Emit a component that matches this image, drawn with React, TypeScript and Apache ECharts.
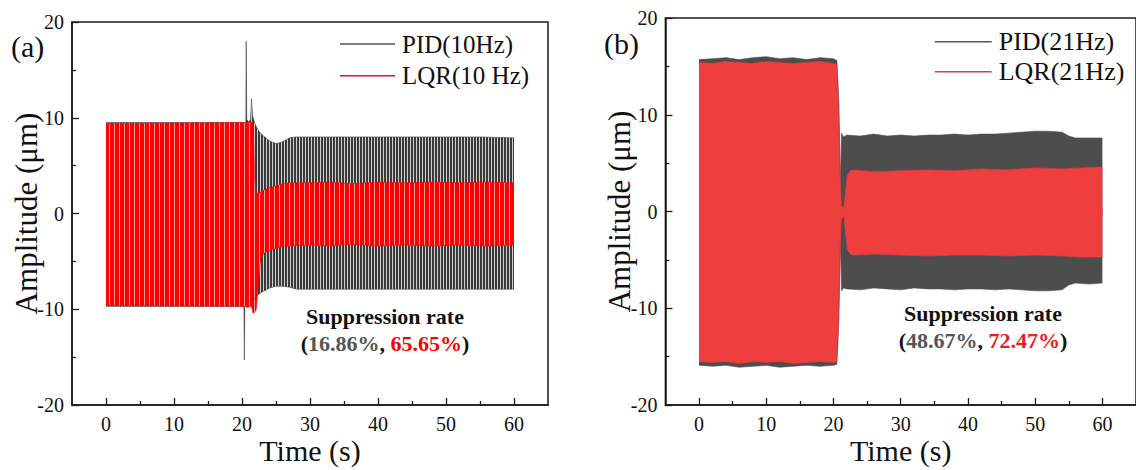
import React, { useEffect, useRef } from 'react';
import * as echarts from 'echarts';

// ---------- axes ----------
const xMajorTicks = [0, 10, 20, 30, 40, 50, 60];
const xMinorTicks = [5, 15, 25, 35, 45, 55];
const xMin = -5;
const xMax = 65;
const yMin = -20;
const yMax = 20;

// ---------- panel (a), 10 Hz: envelope of the oscillation (upper / lower peaks) ----------
const timeA_PID = [0, 20.2, 20.28, 20.35, 20.42, 20.55, 20.62, 20.7, 21.0, 21.25, 21.4, 21.55, 22, 22.5, 23, 24, 25, 26, 27, 28, 30, 35, 40, 45, 50, 55, 60];
const upperA_PID = [9.5, 9.5, 9.5, 9.5, 9.5, 9.6, 18.0, 9.8, 9.6, 9.8, 12.0, 10.2, 9.2, 8.6, 8.2, 7.6, 7.3, 7.5, 7.9, 8.0, 8.0, 8.0, 8.0, 8.0, 8.0, 8.0, 7.9];
const lowerA_PID = [-9.7, -9.7, -9.8, -15.3, -9.8, -9.7, -9.6, -9.8, -9.8, -9.6, -9.5, -9.2, -8.8, -8.4, -8.2, -7.8, -7.6, -7.6, -7.7, -7.9, -7.9, -7.9, -7.9, -7.9, -7.9, -7.9, -7.9];

const timeA_LQR = [0, 21.4, 21.6, 21.9, 22.1, 22.4, 22.7, 23.1, 24, 25.5, 27, 30, 33, 36, 40, 44, 48, 52, 56, 60];
const upperA_LQR = [9.4, 9.5, 9.6, 3.5, 2.2, 2.1, 2.2, 2.4, 2.7, 3.0, 3.2, 3.2, 3.3, 3.1, 3.3, 3.2, 3.3, 3.2, 3.3, 3.2];
const lowerA_LQR = [-9.6, -9.7, -10.4, -10.3, -10.0, -7.5, -5.0, -4.2, -3.9, -3.5, -3.4, -3.3, -3.4, -3.2, -3.4, -3.3, -3.4, -3.3, -3.4, -3.3];

// ---------- panel (b), 21 Hz ----------
const timeB_PID = [0, 2, 4, 6, 8, 10, 12, 14, 16, 18, 20, 20.5, 20.75, 21.05, 21.2, 21.5, 22, 24, 26, 28, 30, 32, 34, 36, 38, 40, 42, 44, 46, 48, 50, 52, 54, 55, 56, 58, 60];
const upperB_PID = [15.7, 15.8, 15.9, 15.7, 15.9, 16.0, 15.8, 15.9, 15.7, 15.9, 15.8, 15.6, 12.0, 3.0, 8.1, 7.7, 7.9, 7.8, 8.0, 7.8, 7.9, 7.8, 7.9, 7.9, 8.0, 7.9, 8.0, 8.0, 8.1, 8.2, 8.3, 8.3, 8.2, 7.8, 7.6, 7.6, 7.6];
const lowerB_PID = [-15.9, -16.0, -15.9, -16.1, -16.0, -15.9, -16.1, -16.0, -15.9, -16.0, -15.9, -15.8, -12.0, -3.0, -8.2, -7.9, -8.0, -8.1, -7.9, -8.0, -8.1, -7.9, -8.0, -8.0, -8.1, -8.0, -8.0, -8.1, -8.0, -8.1, -8.2, -8.2, -8.1, -7.6, -7.4, -7.5, -7.4];

const timeB_LQR = [0, 2, 4, 6, 8, 10, 12, 14, 16, 18, 20, 20.5, 20.8, 21.0, 21.15, 21.55, 21.8, 22.1, 22.5, 23, 26, 30, 34, 38, 42, 46, 50, 54, 57, 60];
const upperB_LQR = [15.4, 15.3, 15.5, 15.4, 15.3, 15.5, 15.4, 15.3, 15.4, 15.5, 15.3, 15.2, 11.0, 4.0, 0.6, 0.3, 2.2, 3.8, 4.2, 4.3, 4.1, 4.2, 4.3, 4.2, 4.4, 4.3, 4.5, 4.4, 4.5, 4.6];
const lowerB_LQR = [-15.5, -15.6, -15.5, -15.7, -15.5, -15.6, -15.5, -15.7, -15.6, -15.5, -15.6, -15.5, -11.0, -4.2, -0.8, -0.5, -2.4, -4.0, -4.4, -4.5, -4.4, -4.5, -4.6, -4.5, -4.5, -4.6, -4.5, -4.6, -4.7, -4.7];

const legendA = ['PID(10Hz)', 'LQR(10 Hz)'];
const legendB = ['PID(21Hz)', 'LQR(21Hz)'];
const rateA = ['16.86%', '65.65%'];
const rateB = ['48.67%', '72.47%'];

const SERIF = "'Liberation Serif', 'Times New Roman', serif";
const BOLD_FONT = "bold 22px 'Liberation Serif', 'Times New Roman', serif";

// Each envelope is drawn as two filled line series: zero -> upper peaks and zero -> lower peaks.
function band(name: string, times: number[], upper: number[], lower: number[], xi: number, yi: number, fill: any, edge: string) {
  const common = {
    type: 'line', xAxisIndex: xi, yAxisIndex: yi, symbol: 'none', silent: true,
    lineStyle: { width: 0.6, color: edge },
  };
  return [
    { ...common, name, data: times.map((t, i) => [t, upper[i]]), areaStyle: { color: fill, opacity: 1, origin: -0.3 } },
    { ...common, name: name + ' lower', data: times.map((t, i) => [t, lower[i]]), areaStyle: { color: fill, opacity: 1, origin: 0.3 } },
  ];
}

function xAxes(grid: number) {
  const common = {
    gridIndex: grid, type: 'value', min: xMin, max: xMax, position: 'bottom',
    splitLine: { show: false },
  };
  return [
    {
      ...common,
      axisLine: { show: true, onZero: false, lineStyle: { color: '#1a1a1a', width: 1.5 } },
      axisTick: { show: true, inside: true, length: 7, customValues: xMajorTicks, lineStyle: { color: '#1a1a1a', width: 1.3 } },
      axisLabel: { show: true, customValues: xMajorTicks, fontSize: 20, color: '#111', fontFamily: SERIF, margin: 9 },
      name: 'Time (s)', nameLocation: 'middle', nameGap: 30, nameMoveOverlap: false,
      nameTextStyle: { fontSize: 30, fontFamily: SERIF, color: '#111' },
    },
    {
      ...common,
      axisLine: { show: false, onZero: false },
      axisTick: { show: true, inside: true, length: 4, customValues: xMinorTicks, lineStyle: { color: '#1a1a1a', width: 1.3 } },
      axisLabel: { show: false },
    },
  ];
}

function yAxis(grid: number) {
  return {
    gridIndex: grid, type: 'value', min: yMin, max: yMax, interval: 10,
    splitLine: { show: false },
    axisLine: { show: true, onZero: false, lineStyle: { color: '#1a1a1a', width: 1.5 } },
    axisTick: { show: true, inside: true, length: 7, lineStyle: { color: '#1a1a1a', width: 1.3 } },
    minorTick: { show: true, splitNumber: 2, length: 4, lineStyle: { color: '#1a1a1a', width: 1.3 } },
    axisLabel: { fontSize: 20, color: '#111', fontFamily: SERIF, margin: 8 },
    name: 'Amplitude (μm)', nameLocation: 'middle', nameGap: 30, nameMoveOverlap: false,
    nameTextStyle: { fontSize: 31, fontFamily: SERIF, color: '#111' },
  };
}

function legendItems(x1: number, x2: number, y1: number, y2: number, labels: string[], colors: string[], size: number) {
  return [
    { type: 'line', z: 100, shape: { x1, y1, x2, y2: y1 }, style: { stroke: colors[0], lineWidth: 1.6 } },
    { type: 'line', z: 100, shape: { x1, y1: y2, x2, y2 }, style: { stroke: colors[1], lineWidth: 1.6 } },
    { type: 'text', z: 100, x: x2 + 7, y: y1, style: { text: labels[0], fontSize: size, fontFamily: SERIF, fill: '#111', align: 'left', verticalAlign: 'middle' } },
    { type: 'text', z: 100, x: x2 + 7, y: y2, style: { text: labels[1], fontSize: size, fontFamily: SERIF, fill: '#111', align: 'left', verticalAlign: 'middle' } },
  ];
}

function rateText(cx: number, y1: number, y2: number, rates: string[], red: string) {
  return [
    { type: 'text', z: 100, x: cx, y: y1, style: { text: 'Suppression rate', font: BOLD_FONT, fill: '#111', align: 'center', verticalAlign: 'middle' } },
    {
      type: 'text', z: 100, x: cx, y: y2,
      style: {
        text: `{k|(}{g|${rates[0]}}{k|, }{r|${rates[1]}}{k|)}`,
        font: BOLD_FONT,
        align: 'center', verticalAlign: 'middle',
        rich: {
          k: { font: BOLD_FONT, fill: '#111' },
          g: { font: BOLD_FONT, fill: '#555555' },
          r: { font: BOLD_FONT, fill: red },
        },
      },
    },
  ];
}

function stripes(w: number, h: number, darkCols: number, dark: string, light: string) {
  const cv = document.createElement('canvas');
  cv.width = w;
  cv.height = h;
  const ctx = cv.getContext('2d');
  if (ctx) {
    ctx.fillStyle = light;
    ctx.fillRect(0, 0, w, h);
    ctx.fillStyle = dark;
    ctx.fillRect(0, 0, darkCols, h);
  }
  return { image: cv, repeat: 'repeat', imageWidth: w, imageHeight: h };
}

export default function App() {
  const ref = useRef<HTMLDivElement>(null);
  useEffect(() => {
    if (!ref.current) return;
    const chart = echarts.init(ref.current, undefined, { renderer: 'svg' });

    const stripeGray = stripes(3, 2, 2, '#3a3a3a', '#d0d0d0');
    const stripeRed = stripes(5, 2, 4, '#ff0000', '#ff9a9a');

    const option: any = {
      animation: false,
      backgroundColor: '#ffffff',
      textStyle: { fontFamily: SERIF },
      grid: [
        { left: 72, top: 22, width: 476, height: 384, show: true, borderColor: '#1a1a1a', borderWidth: 1.5, backgroundColor: 'transparent' },
        { left: 665.4, top: 18, width: 480, height: 387.5, show: true, borderColor: '#1a1a1a', borderWidth: 1.5, backgroundColor: 'transparent' },
      ],
      xAxis: [...xAxes(0), ...xAxes(1)],
      yAxis: [yAxis(0), yAxis(1)],
      series: [
        ...band('PID(10Hz)', timeA_PID, upperA_PID, lowerA_PID, 0, 0, stripeGray, '#4a4a4a'),
        ...band('LQR(10 Hz)', timeA_LQR, upperA_LQR, lowerA_LQR, 0, 0, stripeRed, '#ff0000'),
        ...band('PID(21Hz)', timeB_PID, upperB_PID, lowerB_PID, 2, 1, '#4d4d4d', '#4d4d4d'),
        ...band('LQR(21Hz)', timeB_LQR, upperB_LQR, lowerB_LQR, 2, 1, '#ee3e3e', '#ee3e3e'),
      ],
      graphic: [
        { type: 'text', z: 100, x: 11, y: 46, style: { text: '(a)', fontSize: 30, fontFamily: SERIF, fill: '#111', align: 'left', verticalAlign: 'middle' } },
        { type: 'text', z: 100, x: 604, y: 43, style: { text: '(b)', fontSize: 30, fontFamily: SERIF, fill: '#111', align: 'left', verticalAlign: 'middle' } },
        ...legendItems(340, 395, 44, 75.7, legendA, ['#555555', '#e01515'], 25),
        ...legendItems(935, 991.7, 41.7, 71.7, legendB, ['#555555', '#e03a3a'], 26),
        ...rateText(385, 316, 343, rateA, '#ff0000'),
        ...rateText(983, 313, 340, rateB, '#ee1c1c'),
      ],
    };
    chart.setOption(option);
    return () => chart.dispose();
  }, []);
  return <div ref={ref} style={{ position: 'absolute', left: 0, top: 0, width: 1136, height: 470 }} />;
}
